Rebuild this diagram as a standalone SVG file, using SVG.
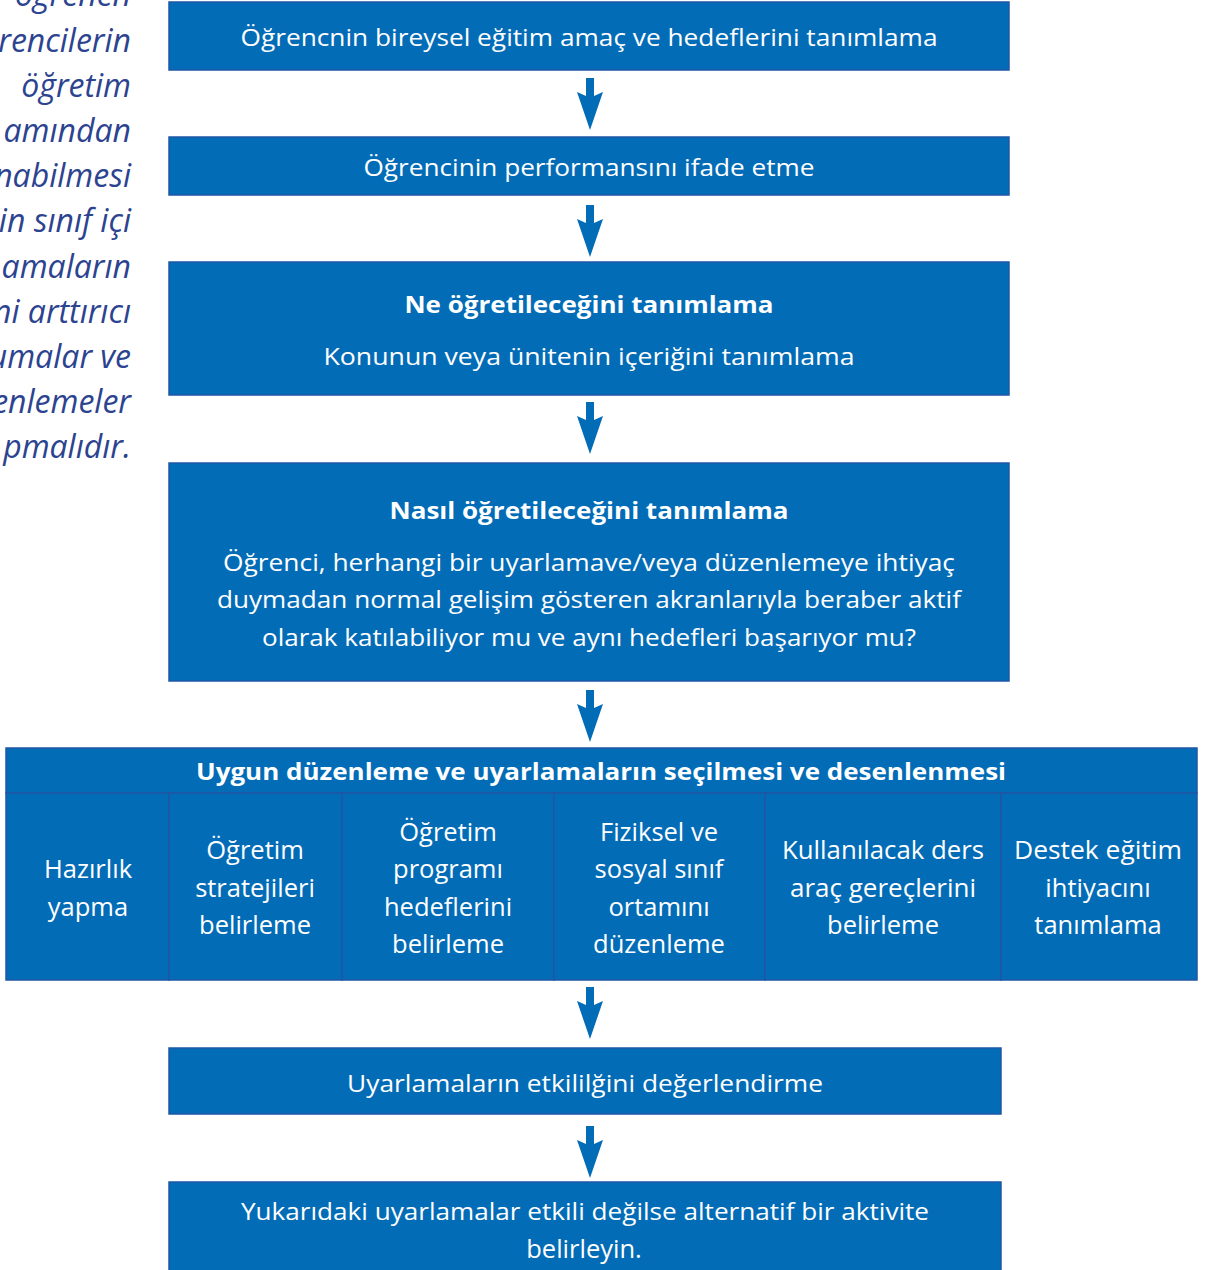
<svg xmlns="http://www.w3.org/2000/svg" width="1206" height="1270" viewBox="0 0 1206 1270">
<style>
.box{fill:#036cb7;stroke:#1f57a6;stroke-width:1.5}
.t{fill:#ffffff;font-family:"Open Sans","Noto Sans",sans-serif;font-size:23px;text-anchor:middle}
.c{font-size:25.5px}
.b{font-weight:bold}
.side{fill:#2c4390;font-family:"Open Sans","Noto Sans",sans-serif;font-style:italic;font-size:32px;text-anchor:end}
.arr{fill:#036cb7}
</style>
<defs>
<path id="arrow" d="M-4,0 L4,0 L4,18 L13,14 L0,52 L-13,14 L-4,18 Z"/>
</defs>
<g id="side-text">
<text class="side" x="131" y="6">öğrenen</text>
<text class="side" x="131" y="52">rencilerin</text>
<text class="side" x="131" y="97">öğretim</text>
<text class="side" x="131" y="142">amından</text>
<text class="side" x="131" y="187">nabilmesi</text>
<text class="side" x="131" y="232">in sınıf içi</text>
<text class="side" x="131" y="278">amaların</text>
<text class="side" x="131" y="323">ni arttırıcı</text>
<text class="side" x="131" y="368">umalar ve</text>
<text class="side" x="131" y="413">enlemeler</text>
<text class="side" x="131" y="458">pmalıdır.</text>
</g>
<g id="n1">
<rect class="box" x="169" y="2" width="840" height="68"/>
<text class="t" x="589" y="46" textLength="697" lengthAdjust="spacingAndGlyphs">Öğrencnin bireysel eğitim amaç ve hedeflerini tanımlama</text>
</g>
<g id="n2">
<rect class="box" x="169" y="137" width="840" height="58"/>
<text class="t" x="589" y="176" textLength="451" lengthAdjust="spacingAndGlyphs">Öğrencinin performansını ifade etme</text>
</g>
<g id="n3">
<rect class="box" x="169" y="262" width="840" height="133"/>
<text class="t b" x="589" y="313" textLength="369" lengthAdjust="spacingAndGlyphs">Ne öğretileceğini tanımlama</text>
<text class="t" x="589" y="365" textLength="531" lengthAdjust="spacingAndGlyphs">Konunun veya ünitenin  içeriğini tanımlama</text>
</g>
<g id="n4">
<rect class="box" x="169" y="463" width="840" height="218"/>
<text class="t b" x="589" y="519" textLength="399" lengthAdjust="spacingAndGlyphs">Nasıl öğretileceğini tanımlama</text>
<text class="t" x="589" y="571" textLength="732" lengthAdjust="spacingAndGlyphs">Öğrenci, herhangi bir uyarlamave/veya düzenlemeye ihtiyaç</text>
<text class="t" x="589" y="608" textLength="744" lengthAdjust="spacingAndGlyphs">duymadan normal gelişim gösteren akranlarıyla beraber aktif</text>
<text class="t" x="589" y="646" textLength="654" lengthAdjust="spacingAndGlyphs">olarak katılabiliyor mu ve aynı hedefleri başarıyor mu?</text>
</g>
<g id="n5">
<rect class="box" x="6" y="748" width="1191" height="45"/>
<text class="t b" x="601" y="780" textLength="810" lengthAdjust="spacingAndGlyphs">Uygun düzenleme ve uyarlamaların seçilmesi ve desenlenmesi</text>
</g>
<g id="c1">
<rect class="box" x="6" y="793" width="163" height="187"/>
<text class="t c" x="88" y="878">Hazırlık</text>
<text class="t c" x="88" y="916">yapma</text>
</g>
<g id="c2">
<rect class="box" x="169" y="793" width="173" height="187"/>
<text class="t c" x="255" y="859">Öğretim</text>
<text class="t c" x="255" y="897">stratejileri</text>
<text class="t c" x="255" y="934">belirleme</text>
</g>
<g id="c3">
<rect class="box" x="342" y="793" width="212" height="187"/>
<text class="t c" x="448" y="841">Öğretim</text>
<text class="t c" x="448" y="878">programı</text>
<text class="t c" x="448" y="916">hedeflerini</text>
<text class="t c" x="448" y="953">belirleme</text>
</g>
<g id="c4">
<rect class="box" x="554" y="793" width="211" height="187"/>
<text class="t c" x="659" y="841">Fiziksel ve</text>
<text class="t c" x="659" y="878">sosyal sınıf</text>
<text class="t c" x="659" y="916">ortamını</text>
<text class="t c" x="659" y="953">düzenleme</text>
</g>
<g id="c5">
<rect class="box" x="765" y="793" width="236" height="187"/>
<text class="t c" x="883" y="859" textLength="202" lengthAdjust="spacingAndGlyphs">Kullanılacak ders</text>
<text class="t c" x="883" y="897" textLength="186" lengthAdjust="spacingAndGlyphs">araç gereçlerini</text>
<text class="t c" x="883" y="934">belirleme</text>
</g>
<g id="c6">
<rect class="box" x="1001" y="793" width="196" height="187"/>
<text class="t c" x="1098" y="859" textLength="168" lengthAdjust="spacingAndGlyphs">Destek eğitim</text>
<text class="t c" x="1098" y="897">ihtiyacını</text>
<text class="t c" x="1098" y="934">tanımlama</text>
</g>
<g id="n7">
<rect class="box" x="169" y="1048" width="832" height="66"/>
<text class="t" x="585" y="1092" textLength="476" lengthAdjust="spacingAndGlyphs">Uyarlamaların etkililğini değerlendirme</text>
</g>
<g id="n8">
<rect class="box" x="169" y="1182" width="832" height="92"/>
<text class="t" x="585" y="1220" textLength="688" lengthAdjust="spacingAndGlyphs">Yukarıdaki uyarlamalar etkili değilse alternatif bir aktivite</text>
<text class="t c" x="584" y="1258">belirleyin.</text>
</g>
<g id="connectors" class="arr">
<use href="#arrow" x="590" y="78"/>
<use href="#arrow" x="590" y="205"/>
<use href="#arrow" x="590" y="402"/>
<use href="#arrow" x="590" y="690"/>
<use href="#arrow" x="590" y="987"/>
<use href="#arrow" x="590" y="1126"/>
</g>
</svg>
